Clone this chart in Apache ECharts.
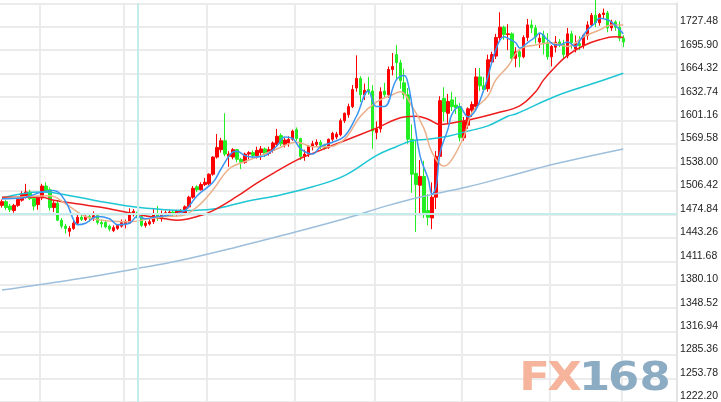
<!DOCTYPE html>
<html><head><meta charset="utf-8">
<script src="https://cdn.jsdelivr.net/npm/echarts/dist/echarts.min.js"></script>
<style>html,body{margin:0;padding:0;background:#fff;}#c{width:721px;height:402px;}</style>
</head><body><div id="c"></div>
<script>
// trading days shown (last 13 are empty future slots)
const monthDays = [
  ["2019-10",[18,21,22,23,24,25,28,29,30,31]],
  ["2019-11",[1,4,5,6,7,8,11,12,13,14,15,18,19,20,21,22,25,26,27,28,29]],
  ["2019-12",[2,3,4,5,6,9,10,11,12,13,16,17,18,19,20,23,24,26,27,30,31]],
  ["2020-01",[2,3,6,7,8,9,10,13,14,15,16,17,20,21,22,23,24,27,28,29,30,31]],
  ["2020-02",[3,4,5,6,7,10,11,12,13,14,17,18,19,20,21,24,25,26,27,28]],
  ["2020-03",[2,3,4,5,6,9,10,11,12,13,16,17,18,19,20,23,24,25,26,27,30,31]],
  ["2020-04",[1,2,3,6,7,8,9,10,13,14,15,16,17,20,21,22,23,24,27,28,29,30]],
  ["2020-05",[1,4,5,6,7,8,11,12,13,14,15,18,19,20,21,22,25,26,27,28,29]],
  ["2020-06",[1,2,3,4,5,8,9,10,11,12,15]]
];
const monthStarts = [10,31,52,74,94,116,138,156];

const openP = [1487,1492,1486,1480,1487,1494,1500,1505,1496,1488,
1497,1513,1508,1484,1490,1467,1459,1452,1456,1463,
1471,1468,1472,1470,1473,1464,1464,1459,1453,1456,
1459,1462,1463,1476,1478,1472,1460,1462,1465,1474,
1469,1475,1477,1478,1475,1476,1476,1485,1498,1512,
1508,1515,1516,1529,1552,1562,1574,1553,1552,1562,
1549,1545,1556,1558,1554,1558,1563,1557,1561,1569,
1581,1569,1571,1576,1589,1577,1553,1556,1566,1569,
1572,1568,1565,1576,1579,1582,1601,1609,1620,1645,
1658,1636,1643,1641,1585,1590,1641,1636,1670,1690,
1679,1652,1636,1576,1530,1514,1526,1480,1470,1498,
1553,1631,1611,1629,1622,1620,1578,1595,1615,1620,
1660,1648,1644,1680,1688,1713,1727,1717,1718,1685,
1694,1687,1713,1730,1726,1707,1716,1706,1687,1700,
1707,1704,1688,1718,1698,1705,1702,1716,1730,1743,
1733,1744,1746,1726,1734,1727,1712];
const highP = [1495,1494,1489,1489,1498,1506,1516,1508,1498,1499,
1516,1518,1511,1494,1494,1470,1462,1459,1468,1474,
1474,1474,1475,1479,1475,1468,1466,1461,1460,1462,
1468,1468,1483,1482,1481,1476,1466,1469,1483,1486,
1480,1480,1481,1480,1481,1482,1487,1500,1513,1514,
1518,1524,1530,1553,1583,1578,1611,1560,1564,1563,
1551,1558,1560,1561,1566,1567,1565,1566,1573,1590,
1584,1578,1580,1589,1592,1578,1562,1568,1574,1576,
1575,1570,1577,1586,1586,1604,1612,1624,1649,1689,
1661,1651,1660,1649,1600,1646,1652,1674,1692,1703,
1683,1671,1645,1596,1575,1548,1547,1502,1518,1560,
1634,1646,1637,1640,1633,1625,1606,1619,1627,1672,
1672,1660,1690,1694,1718,1747,1729,1731,1720,1700,
1698,1716,1738,1737,1730,1718,1722,1719,1703,1715,
1711,1710,1726,1722,1716,1715,1718,1735,1746,1765,
1746,1752,1749,1737,1736,1735,1716];
const lowP = [1484,1481,1478,1477,1485,1492,1496,1494,1480,1481,
1494,1504,1480,1478,1466,1456,1449,1445,1454,1461,
1466,1466,1465,1466,1461,1457,1456,1452,1451,1454,
1457,1456,1462,1472,1468,1458,1457,1460,1462,1466,
1465,1472,1474,1472,1472,1473,1475,1483,1496,1505,
1507,1513,1514,1527,1550,1558,1553,1539,1549,1545,
1536,1543,1549,1551,1550,1548,1552,1554,1558,1566,
1567,1565,1566,1574,1574,1548,1547,1552,1561,1566,
1563,1562,1563,1573,1576,1580,1598,1605,1618,1640,
1626,1629,1636,1563,1576,1585,1632,1632,1662,1656,
1644,1630,1570,1504,1451,1474,1470,1460,1455,1482,
1550,1600,1598,1614,1610,1573,1574,1590,1606,1615,
1641,1640,1640,1677,1684,1708,1710,1696,1680,1673,
1673,1685,1708,1719,1705,1699,1690,1683,1674,1693,
1700,1685,1685,1698,1693,1696,1698,1710,1727,1727,
1729,1738,1720,1722,1722,1708,1700];
const closeP = [1492,1484,1481,1487,1495,1503,1505,1496,1486,1497,
1513,1506,1484,1490,1467,1459,1456,1456,1463,1471,
1468,1472,1470,1473,1464,1462,1458,1455,1457,1460,
1464,1465,1477,1479,1470,1460,1463,1465,1474,1470,
1476,1477,1478,1475,1479,1480,1485,1498,1510,1508,
1515,1518,1529,1552,1565,1574,1556,1556,1562,1549,
1545,1556,1558,1554,1561,1563,1557,1562,1571,1580,
1570,1575,1576,1587,1577,1553,1556,1566,1570,1572,
1568,1565,1576,1584,1583,1601,1611,1620,1643,1658,
1636,1642,1641,1587,1590,1640,1636,1670,1674,1679,
1655,1636,1576,1529,1515,1526,1477,1471,1498,1553,
1628,1613,1627,1620,1618,1578,1600,1617,1623,1660,
1648,1643,1683,1690,1713,1727,1717,1718,1685,1694,
1687,1713,1730,1726,1714,1712,1706,1687,1701,1707,
1703,1690,1718,1706,1705,1702,1716,1730,1743,1733,
1744,1746,1726,1734,1727,1712,1707];

// moving averages: [bar index, value]
const ma5 = [[0,1496],[5,1497],[10,1505],[13,1507],[16,1492],[18,1467],[19,1461],[21,1463],[24,1472],[27,1469],[29,1461],[32,1463],[34,1472],[36,1469],[39,1472],[41,1473],[44,1476],[46,1480],[49,1500],[53,1518],[55,1536],[58,1559],[59,1560],[61,1554],[63,1552],[66,1554],[69,1567],[71,1579],[73,1577],[75,1563],[78,1556],[80,1566],[83,1572],[86,1580],[89,1607],[92,1641],[94,1620],[96,1620],[99,1656],[101,1662],[102,1650],[103,1620],[105,1553],[107,1523],[108,1502],[109,1513],[110,1558],[112,1590],[113,1610],[115,1620],[116,1612],[117,1606],[119,1616],[121,1643],[122,1660],[124,1697],[126,1714],[127,1712],[129,1706],[130,1699],[132,1706],[134,1714],[135,1719],[137,1710],[139,1703],[140,1703],[142,1707],[144,1701],[145,1708],[147,1723],[149,1733],[150,1739],[152,1737],[153,1734],[155,1724],[156,1718]];
const ma10 = [[0,1496],[12,1500],[16,1489],[21,1472],[27,1466],[32,1465],[37,1469],[41,1472],[45,1473],[49,1485],[53,1508],[57,1536],[61,1546],[65,1554],[69,1563],[74,1572],[78,1566],[82,1566],[86,1576],[90,1607],[94,1626],[98,1636],[100,1640],[103,1620],[106,1590],[108,1558],[111,1540],[113,1549],[116,1580],[118,1612],[122,1634],[124,1656],[127,1674],[130,1697],[134,1703],[138,1706],[142,1701],[146,1714],[150,1723],[153,1730],[156,1730]];
const ma20 = [[0,1498],[10,1498],[13,1494],[24,1485],[33,1476],[37,1472],[41,1469],[44,1467],[49,1472],[53,1480],[59,1499],[64,1517],[69,1533],[74,1548],[78,1557],[86,1574],[94,1591],[101,1606],[104,1607],[107,1603],[110,1596],[113,1598],[118,1603],[124,1611],[130,1621],[134,1640],[136,1656],[139,1674],[142,1689],[146,1702],[150,1710],[154,1714],[156,1713]];
const ma60 = [[0,1497],[10,1505],[13,1504],[24,1493],[33,1485],[41,1481],[46,1480],[53,1482],[61,1492],[69,1500],[78,1512],[86,1527],[94,1554],[99,1566],[103,1574],[107,1576],[112,1580],[117,1587],[122,1594],[127,1607],[129,1610],[139,1634],[149,1652],[156,1665]];
const ma200 = [[0,1373],[20,1389],[34,1402],[44,1412],[59,1431],[70,1446],[86,1469],[97,1487],[104,1497],[117,1512],[127,1526],[139,1543],[156,1563]];

const yMin = 1222.20, yMax = 1759.06, yStep = 31.58;
const crossIndex = 34, crossValue = 1476;

const categories = [];
monthDays.forEach(([m, ds]) => ds.forEach(d => categories.push(m + '-' + String(d).padStart(2, '0'))));
const kData = openP.map((o, i) => [o, closeP[i], lowP[i], highP[i]]);

const chart = echarts.init(document.getElementById('c'), null, {renderer: 'canvas'});
const maLine = (data, color) => ({
  type: 'line', data: data, symbol: 'none', showSymbol: false, smooth: 0.4,
  lineStyle: {color: color, width: 1.5}, silent: true, z: 3, clip: false
});
const glyph = (ch, x, color) => ({
  type: 'text', x: x, y: 380, scaleX: 1.15, z: 100, silent: true,
  style: {text: ch, fill: color, font: 'bold 39px "DejaVu Sans"', align: 'center', verticalAlign: 'middle'}
});
chart.setOption({
  animation: false,
  backgroundColor: '#ffffff',
  grid: {left: 0, right: 39, top: 3.33, bottom: -3.67, containLabel: false},
  xAxis: {
    type: 'category', data: categories, boundaryGap: true,
    axisLine: {show: false}, axisTick: {show: false}, axisLabel: {show: false},
    splitLine: {show: true, interval: (i) => monthStarts.includes(i), lineStyle: {color: '#ebebeb', width: 2}}
  },
  yAxis: {
    type: 'value', position: 'right', min: yMin, max: yMax, interval: yStep,
    axisLine: {show: true, lineStyle: {color: '#e4e4e4', width: 2}},
    axisTick: {show: false},
    axisLabel: {margin: 3, color: '#222', fontSize: 10.5, fontFamily: '"Liberation Sans", Arial, sans-serif',
      verticalAlign: 'bottom', align: 'left', showMaxLabel: false, formatter: (v) => v.toFixed(2)},
    splitLine: {show: true, lineStyle: {color: '#ebebeb', width: 2}}
  },
  series: [
    {
      type: 'candlestick', data: kData, barWidth: 3, clip: false, z: 2,
      itemStyle: {color: '#ff0000', color0: '#22ee22', borderColor: '#ff0000', borderColor0: '#22ee22', borderWidth: 1},
      markLine: {
        silent: true, symbol: 'none', label: {show: false}, animation: false,
        lineStyle: {color: '#c4ecec', width: 2, type: 'solid'},
        data: [{xAxis: crossIndex}, {yAxis: crossValue}]
      }
    },
    maLine(ma200, '#9dbfdc'),
    maLine(ma60, '#1ec6d4'),
    maLine(ma20, '#ee1c1c'),
    maLine(ma10, '#ebb089'),
    maLine(ma5, '#3a95f2')
  ],
  graphic: [
    glyph('F', 534.5, '#f5b49b'),
    glyph('X', 564.5, '#f5b49b'),
    glyph('1', 594.5, '#8cacc4'),
    glyph('6', 623.5, '#8cacc4'),
    glyph('8', 655, '#8cacc4')
  ]
});
</script></body></html>
